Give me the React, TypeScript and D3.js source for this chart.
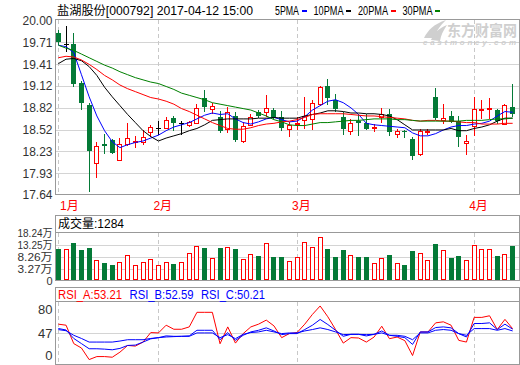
import React, { useRef, useEffect } from 'react'
import * as d3 from 'd3'

// 日K数据
const opens = [19.84, 19.68, 19.68, 19.16, 18.86, 18.07, 18.33, 18.39, 18.11, 18.33, 18.36, 18.35, 18.49, 18.55, 18.54, 18.68, 18.62, 18.59, 18.61, 18.95, 18.8, 18.7, 18.53, 18.71, 18.37, 18.59, 18.76, 18.77, 18.79, 18.7, 18.53, 18.6, 18.65, 18.67, 18.87, 19.12, 18.92, 18.7, 18.5, 18.64, 18.61, 18.55, 18.69, 18.73, 18.46, 18.51, 18.4, 18.19, 18.49, 18.97, 18.65, 18.71, 18.64, 18.34, 18.58, 18.79, 18.81, 18.79, 18.6, 18.83]
const highs = [19.87, 19.93, 19.83, 19.19, 18.88, 18.36, 18.46, 18.4, 18.41, 18.61, 18.44, 18.52, 18.59, 18.64, 18.7, 18.71, 18.64, 18.64, 18.87, 19.06, 18.88, 18.78, 18.83, 18.76, 18.63, 18.73, 18.79, 19.0, 18.82, 18.78, 18.63, 18.7, 18.97, 18.92, 19.12, 19.21, 19.01, 18.76, 18.67, 18.73, 18.73, 18.6, 18.82, 18.8, 18.53, 18.52, 18.42, 18.53, 18.53, 19.09, 18.87, 18.78, 18.71, 18.45, 18.97, 18.92, 18.96, 18.8, 18.87, 19.15]
const lows = [19.69, 19.59, 19.11, 18.8, 17.69, 17.88, 18.21, 18.21, 18.11, 18.32, 18.29, 18.33, 18.44, 18.46, 18.54, 18.52, 18.46, 18.58, 18.61, 18.78, 18.75, 18.49, 18.49, 18.37, 18.36, 18.59, 18.7, 18.71, 18.68, 18.52, 18.44, 18.53, 18.55, 18.53, 18.86, 18.87, 18.78, 18.47, 18.46, 18.45, 18.53, 18.51, 18.63, 18.45, 18.42, 18.42, 18.12, 18.18, 18.46, 18.67, 18.62, 18.63, 18.3, 18.2, 18.45, 18.68, 18.68, 18.62, 18.6, 18.71]
const closes = [19.71, 19.68, 19.15, 18.89, 18.24, 18.3, 18.3, 18.21, 18.33, 18.41, 18.37, 18.42, 18.56, 18.55, 18.65, 18.61, 18.62, 18.63, 18.82, 18.83, 18.84, 18.51, 18.77, 18.38, 18.58, 18.7, 18.71, 18.82, 18.69, 18.54, 18.59, 18.62, 18.71, 18.89, 19.1, 18.96, 18.8, 18.53, 18.62, 18.61, 18.53, 18.56, 18.73, 18.49, 18.51, 18.49, 18.17, 18.51, 18.5, 18.68, 18.68, 18.63, 18.42, 18.37, 18.8, 18.8, 18.82, 18.64, 18.86, 18.74]
// 成交量（万）
const volumes = [11.6, 11.5, 14.1, 11.2, 12.0, 6.9, 5.8, 4.9, 6.1, 9.0, 4.8, 6.1, 7.3, 4.8, 6.1, 5.4, 6.1, 9.8, 13.0, 12.0, 7.9, 12.0, 12.3, 11.6, 7.3, 9.4, 8.7, 14.0, 8.3, 8.3, 6.5, 8.1, 14.4, 12.3, 16.5, 11.6, 8.3, 11.2, 9.0, 8.3, 8.3, 5.7, 7.7, 9.1, 5.7, 4.9, 10.8, 9.8, 6.9, 13.7, 11.1, 7.9, 8.7, 6.9, 13.1, 11.6, 11.6, 8.7, 9.4, 12.84]
// 均线
const ma5 = [19.67, 19.65, 19.57, 19.27, 18.97, 18.71, 18.51, 18.36, 18.28, 18.32, 18.35, 18.37, 18.41, 18.45, 18.51, 18.56, 18.59, 18.62, 18.67, 18.72, 18.75, 18.73, 18.74, 18.67, 18.62, 18.6, 18.63, 18.67, 18.69, 18.66, 18.63, 18.64, 18.7, 18.79, 18.85, 18.91, 18.93, 18.89, 18.82, 18.73, 18.61, 18.59, 18.58, 18.57, 18.56, 18.55, 18.48, 18.44, 18.44, 18.47, 18.52, 18.56, 18.58, 18.58, 18.6, 18.61, 18.64, 18.71, 18.77, 18.76]
const ma10 = [19.42, 19.48, 19.49, 19.46, 19.38, 19.26, 19.1, 18.97, 18.85, 18.73, 18.62, 18.51, 18.43, 18.37, 18.41, 18.44, 18.47, 18.51, 18.54, 18.59, 18.65, 18.66, 18.67, 18.67, 18.67, 18.67, 18.68, 18.68, 18.69, 18.68, 18.68, 18.68, 18.71, 18.73, 18.75, 18.78, 18.78, 18.77, 18.75, 18.75, 18.74, 18.74, 18.73, 18.71, 18.66, 18.59, 18.52, 18.52, 18.52, 18.52, 18.52, 18.54, 18.51, 18.51, 18.54, 18.56, 18.59, 18.64, 18.68, 18.68]
const ma20 = [19.5, 19.52, 19.51, 19.47, 19.41, 19.34, 19.26, 19.2, 19.13, 19.08, 19.04, 19.0, 18.96, 18.94, 18.91, 18.87, 18.81, 18.77, 18.72, 18.67, 18.62, 18.58, 18.54, 18.53, 18.53, 18.55, 18.58, 18.6, 18.61, 18.63, 18.64, 18.66, 18.69, 18.73, 18.74, 18.74, 18.74, 18.74, 18.73, 18.72, 18.71, 18.71, 18.7, 18.69, 18.68, 18.67, 18.65, 18.64, 18.65, 18.65, 18.64, 18.64, 18.63, 18.62, 18.62, 18.6, 18.6, 18.6, 18.61, 18.61]
const ma30 = [19.67, 19.63, 19.6, 19.55, 19.5, 19.45, 19.4, 19.36, 19.31, 19.27, 19.23, 19.2, 19.17, 19.15, 19.11, 19.07, 19.02, 18.99, 18.96, 18.93, 18.89, 18.87, 18.85, 18.83, 18.81, 18.79, 18.75, 18.71, 18.66, 18.63, 18.59, 18.58, 18.58, 18.6, 18.62, 18.62, 18.63, 18.64, 18.65, 18.65, 18.66, 18.67, 18.67, 18.67, 18.66, 18.66, 18.65, 18.64, 18.64, 18.64, 18.64, 18.64, 18.64, 18.65, 18.65, 18.65, 18.66, 18.67, 18.67, 18.68]
// RSI
const rsiA = [59.4, 58, 33, 27, 11.3, 15.4, 15.4, 14.5, 21.4, 30.5, 29.6, 35.1, 48, 47.5, 58, 52.5, 52.5, 55.7, 75.5, 75.5, 75.5, 32.8, 55.7, 33.7, 46.6, 55.7, 59.4, 64.9, 57.1, 41.1, 46.6, 48.0, 59.4, 72.7, 84.1, 69.4, 52.1, 33.7, 41.1, 40.6, 35.1, 41.9, 56.6, 39.7, 41.9, 37, 16.8, 48.8, 48.8, 61.2, 62.6, 58.0, 37.4, 35.1, 68.6, 68.6, 70.8, 52.1, 65.9, 53.21]
const rsiB = [53.5, 51.5, 40, 33, 26, 26, 25.5, 24.6, 26.5, 30.5, 31, 35.1, 39.5, 41.1, 43.5, 42.9, 42.9, 43.5, 51.1, 51.1, 51.1, 38.3, 48, 37.4, 44.3, 48.9, 51.1, 54.4, 50.2, 45.2, 46.6, 46.6, 52.1, 58.0, 65.8, 58.9, 51.1, 42.9, 45.6, 45.6, 43.4, 45.6, 50.2, 44.3, 42.9, 41.1, 31.9, 48.9, 48.9, 54.8, 55.7, 54.4, 46.6, 42.0, 60.3, 60.3, 61.2, 52.1, 59.4, 52.59]
const rsiC = [52, 50.5, 44.3, 40, 35.1, 35.1, 35.1, 35.1, 36.5, 38.3, 38.3, 38.3, 40, 41.1, 42, 42.5, 42.9, 42.9, 47.5, 47.5, 47.5, 41.1, 45.2, 39.7, 45.6, 48, 48.9, 51.1, 48.9, 46.6, 47.5, 47.5, 50.2, 52.1, 54.4, 52.1, 48.9, 45.2, 45.6, 45.6, 45.2, 45.6, 47.5, 44.3, 44.3, 42.9, 38.3, 47.5, 47.5, 51.1, 52.1, 51.1, 46.6, 44.3, 53.4, 53.4, 53.4, 51.1, 53.4, 50.21]

const priceTicks = [20.0, 19.71, 19.41, 19.12, 18.82, 18.52, 18.23, 17.93, 17.64]
const volTicks = [18.24, 13.25, 8.26, 3.27, 0]
const rsiTicks = [80, 47, 0]
const monthLabels = ['1月', '2月', '3月', '4月']
const monthStarts = [0, 13, 31, 54]
const maNames = ['5PMA', '10PMA', '20PMA', '30PMA']
const rsiNames = ['RSI_A', 'RSI_B', 'RSI_C']

const RED = '#ff0000'
const GREEN = '#047a37'
const BLUE = '#0000ff'
const GRID = '#d4d4d4'
const BORDER = '#999'
const FONT = "'Liberation Sans','Noto Sans CJK SC',sans-serif"

export default function App() {
    const svgRef = useRef<SVGSVGElement>(null)

    useEffect(() => {
        const svg = d3.select(svgRef.current)
        svg.selectAll('*').remove()

        const left = 55.5
        const right = 519.5
        const pTop = 19.5
        const pBottom = 194.5
        const vhTop = 215.5
        const vTop = 232.5
        const vBottom = 280.5
        const rhTop = 287.5
        const rTop = 301.5
        const rBottom = 364.5

        const idx = d3.range(closes.length)
        const x = d3
            .scaleBand<number>()
            .domain(idx)
            .range([54.5, 516.5])
            .paddingInner(0.3)
            .paddingOuter(0.15)
        const cx = (i: number) => x(i)! + x.bandwidth() / 2

        const y = d3.scaleLinear().domain([17.64, 20]).range([194.8, 20.9])
        const vy = d3.scaleLinear().domain([3.27, 18.24]).range([269, 233])
        const ry = d3.scaleLinear().domain([47, 80]).range([333.3, 309])
        const snap = (v: number) => Math.round(v) + 0.5

        const back = svg.append('g').attr('shape-rendering', 'crispEdges')

        // 网格线
        back.selectAll('.pgrid')
            .data(priceTicks.slice(1, -1))
            .join('line')
            .attr('x1', left)
            .attr('x2', right)
            .attr('y1', (d) => snap(y(d)))
            .attr('y2', (d) => snap(y(d)))
            .attr('stroke', GRID)
        back.selectAll('.vgrid')
            .data(volTicks.slice(1, -1))
            .join('line')
            .attr('x1', left)
            .attr('x2', right)
            .attr('y1', (d) => snap(vy(d)))
            .attr('y2', (d) => snap(vy(d)))
            .attr('stroke', GRID)
        back.append('line')
            .attr('x1', left)
            .attr('x2', right)
            .attr('y1', snap(ry(47)))
            .attr('y2', snap(ry(47)))
            .attr('stroke', GRID)

        // 月份虚线
        ;[
            [pTop, pBottom],
            [vTop, vBottom],
            [rTop, rBottom],
        ].forEach(([a, b]) => {
            back.selectAll(null)
                .data(monthStarts)
                .join('line')
                .attr('x1', (d) => snap(cx(d)))
                .attr('x2', (d) => snap(cx(d)))
                .attr('y1', a)
                .attr('y2', b)
                .attr('stroke', '#c8c8c8')
                .attr('stroke-dasharray', '4,3')
        })

        // 水印
        const wm = svg.append('g').attr('fill', '#cfcfcf')
        wm.append('path')
            .attr('d', 'M424,38 C428,30 434,24 446,20 C440,26 436,31 434,38 Z M431,40 C434,33 439,28 447,25 C443,31 441,35 440,41 Z')
        wm.append('text')
            .attr('x', 447)
            .attr('y', 36)
            .attr('font-family', FONT)
            .attr('font-size', 15)
            .attr('font-weight', 'bold')
            .attr('textLength', 70)
            .attr('lengthAdjust', 'spacingAndGlyphs')
            .text('东方财富网')
        wm.append('text')
            .attr('x', 423)
            .attr('y', 45)
            .attr('font-family', FONT)
            .attr('font-size', 8)
            .attr('font-weight', 'bold')
            .attr('font-style', 'italic')
            .attr('textLength', 93)
            .attr('lengthAdjust', 'spacing')
            .text('eastmoney.com')

        // K线
        const kg = svg.append('g').attr('shape-rendering', 'crispEdges')
        idx.forEach((i) => {
            const l = Math.round(cx(i) - 2.5)
            const yo = Math.round(y(opens[i]))
            const yc = Math.round(y(closes[i]))
            const up = closes[i] > opens[i]
            const down = closes[i] < opens[i]
            const col = up ? RED : down ? GREEN : '#000'
            kg.append('line')
                .attr('x1', l + 2.5)
                .attr('x2', l + 2.5)
                .attr('y1', Math.round(y(highs[i])))
                .attr('y2', Math.round(y(lows[i])) + 1)
                .attr('stroke', col)
            if (up) {
                kg.append('rect')
                    .attr('x', l + 0.5)
                    .attr('y', yc + 0.5)
                    .attr('width', 4)
                    .attr('height', Math.max(yo - yc, 1))
                    .attr('fill', '#fff')
                    .attr('stroke', RED)
            } else if (down) {
                kg.append('rect')
                    .attr('x', l)
                    .attr('y', yo)
                    .attr('width', 5)
                    .attr('height', Math.max(yc - yo, 1))
                    .attr('fill', GREEN)
            } else {
                kg.append('line')
                    .attr('x1', l)
                    .attr('x2', l + 5)
                    .attr('y1', yo + 0.5)
                    .attr('y2', yo + 0.5)
                    .attr('stroke', '#000')
            }
        })

        // 均线
        const maSeries = [ma5, ma10, ma20, ma30]
        const maColors = [BLUE, '#000', RED, '#008000']
        maSeries.forEach((s, k) => {
            const line = d3
                .line<number>()
                .x((i) => cx(i))
                .y((i) => y(s[i]))
            svg.append('path')
                .attr('d', line(idx))
                .attr('fill', 'none')
                .attr('stroke', maColors[k])
                .attr('stroke-width', 1)
        })

        // 成交量柱
        const vg = svg.append('g').attr('shape-rendering', 'crispEdges')
        idx.forEach((i) => {
            const l = Math.round(cx(i) - 2.5)
            const top = Math.round(vy(volumes[i]))
            if (closes[i] >= opens[i]) {
                vg.append('rect')
                    .attr('x', l + 0.5)
                    .attr('y', top + 0.5)
                    .attr('width', 4)
                    .attr('height', vBottom - 1 - (top + 0.5))
                    .attr('fill', '#fff')
                    .attr('stroke', RED)
            } else {
                vg.append('rect')
                    .attr('x', l)
                    .attr('y', top)
                    .attr('width', 5)
                    .attr('height', vBottom - 0.5 - top)
                    .attr('fill', GREEN)
            }
        })

        // RSI
        const rsiSeries = [rsiA, rsiB, rsiC]
        const rsiColors = [RED, BLUE, BLUE]
        rsiSeries.forEach((s, k) => {
            const line = d3
                .line<number>()
                .x((i) => cx(i))
                .y((i) => ry(s[i]))
            svg.append('path')
                .attr('d', line(idx))
                .attr('fill', 'none')
                .attr('stroke', rsiColors[k])
                .attr('stroke-width', 1)
        })

        // 边框
        const fg = svg.append('g').attr('shape-rendering', 'crispEdges').attr('fill', 'none').attr('stroke', BORDER)
        fg.append('rect').attr('x', left).attr('y', pTop).attr('width', right - left).attr('height', pBottom - pTop)
        fg.append('rect').attr('x', left).attr('y', vhTop).attr('width', right - left).attr('height', vBottom - vhTop)
        fg.append('line').attr('x1', left).attr('x2', right).attr('y1', vTop).attr('y2', vTop)
        fg.append('rect').attr('x', left).attr('y', rhTop).attr('width', right - left).attr('height', rBottom - rhTop)
        fg.append('line').attr('x1', left).attr('x2', right).attr('y1', rTop).attr('y2', rTop)

        // 标题
        svg.append('text')
            .attr('x', 57)
            .attr('y', 15)
            .attr('font-family', FONT)
            .attr('font-size', 12)
            .attr('textLength', 196)
            .attr('lengthAdjust', 'spacingAndGlyphs')
            .text('盐湖股份[000792] 2017-04-12 15:00')

        // 图例
        let lx = 275
        maNames.forEach((name, k) => {
            const w = name.length * 6
            svg.append('text')
                .attr('x', lx)
                .attr('y', 15)
                .attr('font-family', FONT)
                .attr('font-size', 12)
                .attr('textLength', w)
                .attr('lengthAdjust', 'spacingAndGlyphs')
                .text(name)
            svg.append('rect')
                .attr('x', Math.round(lx + w + 2.5))
                .attr('y', 10)
                .attr('width', 5)
                .attr('height', 2)
                .attr('fill', maColors[k])
            lx += w + 14.5
        })

        // 价格刻度
        svg.selectAll('.plabel')
            .data(priceTicks)
            .join('text')
            .attr('x', 52.5)
            .attr('y', (d) => y(d) + 4.5)
            .attr('text-anchor', 'end')
            .attr('font-family', FONT)
            .attr('font-size', 13)
            .attr('fill', '#333')
            .attr('textLength', 30)
            .attr('lengthAdjust', 'spacingAndGlyphs')
            .text((d) => d.toFixed(2))

        // 月份
        svg.selectAll('.mlabel')
            .data(monthStarts)
            .join('text')
            .attr('x', (d) => Math.max(cx(d) - 5, 60))
            .attr('y', 210)
            .attr('font-family', FONT)
            .attr('font-size', 12)
            .attr('fill', RED)
            .text((d, k) => monthLabels[k])

        // 成交量刻度
        svg.selectAll('.vlabel')
            .data(volTicks)
            .join('text')
            .attr('x', 52.5)
            .attr('y', (d) => (d === 0 ? vBottom : vy(d)) + 4)
            .attr('text-anchor', 'end')
            .attr('font-family', FONT)
            .attr('font-size', 11)
            .attr('fill', '#333')
            .each(function (d) {
                if (d !== 0) d3.select(this).attr('textLength', 35).attr('lengthAdjust', 'spacingAndGlyphs')
            })
            .text((d) => (d === 0 ? '0' : d.toFixed(2) + '万'))

        svg.append('text')
            .attr('x', 58)
            .attr('y', 228)
            .attr('font-family', FONT)
            .attr('font-size', 12)
            .attr('textLength', 66)
            .attr('lengthAdjust', 'spacingAndGlyphs')
            .text(`成交量:${Math.round(volumes[volumes.length - 1] * 100)}`)

        // RSI 刻度
        svg.selectAll('.rlabel')
            .data(rsiTicks)
            .join('text')
            .attr('x', 52.5)
            .attr('y', (d) => Math.min(ry(d), rBottom - 9.5) + 5)
            .attr('text-anchor', 'end')
            .attr('font-family', FONT)
            .attr('font-size', 13)
            .attr('fill', '#333')
            .text((d) => String(d))

        rsiNames.forEach((name, k) => {
            const s = rsiSeries[k]
            svg.append('text')
                .attr('x', 58 + k * 71.5)
                .attr('y', 298.5)
                .attr('font-family', FONT)
                .attr('font-size', 12)
                .attr('fill', rsiColors[k])
                .attr('textLength', 64)
                .attr('lengthAdjust', 'spacingAndGlyphs')
                .text(`${name}:${s[s.length - 1].toFixed(2)}`)
        })
    }, [])

    return (
        <svg
            ref={svgRef}
            width={520}
            height={365}
            style={{ position: 'absolute', left: 0, top: 0, background: '#fff' }}
        />
    )
}
